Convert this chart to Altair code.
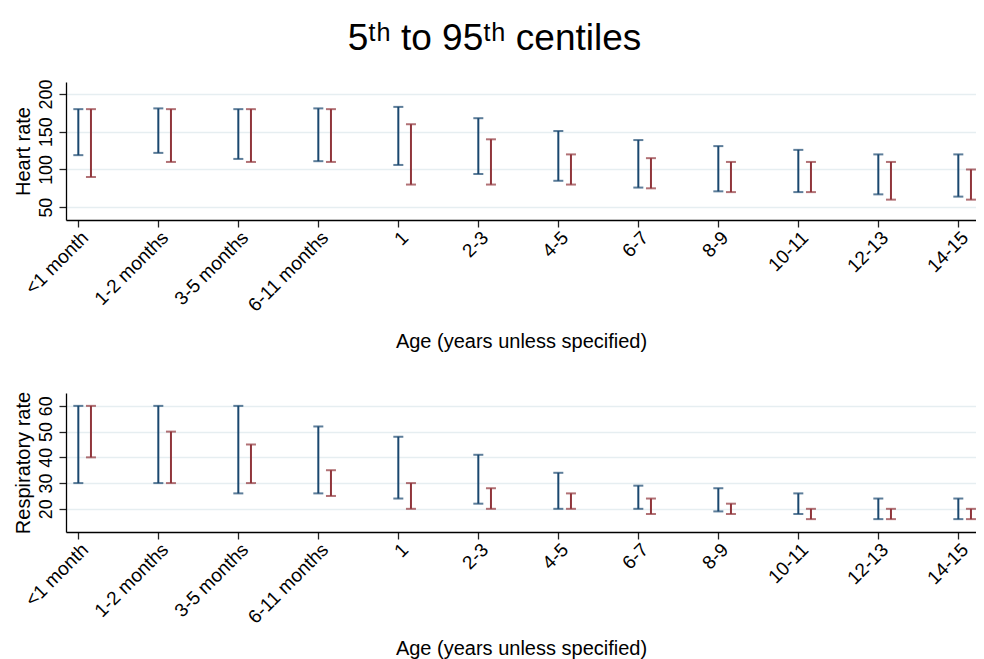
import json
import altair as alt
import pandas as pd

# ---------------- data ----------------
age_labels = ["<1 month", "1-2 months", "3-5 months", "6-11 months", "1", "2-3",
              "4-5", "6-7", "8-9", "10-11", "12-13", "14-15"]
series_names = ["Series A", "Series B"]

hr_a_lo = [119, 122, 114, 111, 106, 94, 85, 76, 71, 70, 67, 64]
hr_a_hi = [180, 181, 180, 181, 183, 168, 151, 139, 131, 126, 120, 120]
hr_b_lo = [90, 110, 110, 110, 80, 80, 80, 75, 70, 70, 60, 60]
hr_b_hi = [180, 180, 180, 180, 160, 140, 120, 115, 110, 110, 110, 100]

rr_a_lo = [30, 30, 26, 26, 24, 22, 20, 20, 19, 18, 16, 16]
rr_a_hi = [60, 60, 60, 52, 48, 41, 34, 29, 28, 26, 24, 24]
rr_b_lo = [40, 30, 30, 25, 20, 20, 20, 18, 18, 16, 16, 16]
rr_b_hi = [60, 50, 45, 35, 30, 28, 26, 24, 22, 20, 20, 20]

hr_ticks = [50, 100, 150, 200]
rr_ticks = [20, 30, 40, 50, 60]

# ---------------- layout / style ----------------
OFFSET = 0.158          # second series drawn just right of each age tick
XMIN, XMAX = -0.154, 11.221
PLOT_W = 910
BLUE, RED = "#1a476f", "#90353b"
FONT = "Liberation Sans"

label_expr = json.dumps(age_labels) + "[datum.value]"


def make_df(a_lo, a_hi, b_lo, b_hi):
    rows = []
    for i, lab in enumerate(age_labels):
        rows.append(dict(age=lab, pos=i, lo=a_lo[i], hi=a_hi[i], series=series_names[0]))
        rows.append(dict(age=lab, pos=i + OFFSET, lo=b_lo[i], hi=b_hi[i], series=series_names[1]))
    return pd.DataFrame(rows)


def panel(df, ytitle, ydomain, yticks, height, xtitle_pad):
    x = alt.X(
        "pos:Q",
        scale=alt.Scale(domain=[XMIN, XMAX], nice=False, zero=False),
        axis=alt.Axis(
            values=list(range(len(age_labels))),
            labelExpr=label_expr,
            title="Age (years unless specified)",
            grid=False,
            labelAngle=315,
            labelAlign="right",
            labelBaseline="top",
            labelPadding=1,
            titlePadding=xtitle_pad,
            labelOverlap=False,
            labelFlush=False,
            labelFontSize=19,
        ),
    )
    yscale = alt.Scale(domain=ydomain, nice=False, zero=False)
    yaxis = alt.Axis(
        values=yticks,
        title=ytitle,
        grid=True,
        labelAngle=270,
        labelAlign="center",
        labelBaseline="bottom",
        labelPadding=4,
        titlePadding=4,
        labelOverlap=False,
        labelFlush=False,
        labelFontSize=17.8,
    )
    color = alt.Color("series:N", scale=alt.Scale(domain=series_names, range=[BLUE, RED]), legend=None)
    base = alt.Chart(df)
    stems = base.mark_rule(strokeWidth=2).encode(
        x=x, y=alt.Y("lo:Q", scale=yscale, axis=yaxis), y2="hi:Q", color=color
    )
    cap_lo = base.mark_tick(orient="horizontal", size=10, thickness=2).encode(
        x=x, y=alt.Y("lo:Q", scale=yscale, axis=yaxis), color=color
    )
    cap_hi = base.mark_tick(orient="horizontal", size=10, thickness=2).encode(
        x=x, y=alt.Y("hi:Q", scale=yscale, axis=yaxis), color=color
    )
    return alt.layer(stems, cap_lo, cap_hi).properties(width=PLOT_W, height=height)


top = panel(make_df(hr_a_lo, hr_a_hi, hr_b_lo, hr_b_hi), "Heart rate", [33, 216], hr_ticks, 138, 16)
bottom = panel(make_df(rr_a_lo, rr_a_hi, rr_b_lo, rr_b_hi), "Respiratory rate", [11, 65], rr_ticks, 139, 11)

chart = (
    alt.vconcat(top, bottom, spacing=39)
    .properties(
        title=alt.TitleParams(
            text="5\u1d57\u02b0 to 95\u1d57\u02b0 centiles",
            fontSize=37,
            font=FONT,
            fontWeight="normal",
            color="black",
            anchor="middle",
            offset=21,
        ),
        padding={"left": 4, "top": 12, "right": 0, "bottom": 0},
        background="white",
    )
    .configure_view(stroke=None)
    .configure_axis(
        labelFont=FONT,
        titleFont=FONT,
        titleFontSize=20,
        titleFontWeight="normal",
        labelColor="black",
        titleColor="black",
        domainColor="black",
        domainWidth=1.3,
        tickColor="#222222",
        tickSize=7,
        tickWidth=1.3,
        gridColor="#e6eef1",
        gridWidth=1.5,
    )
)

chart.save("out.html", embed_options={"renderer": "svg", "actions": False})
